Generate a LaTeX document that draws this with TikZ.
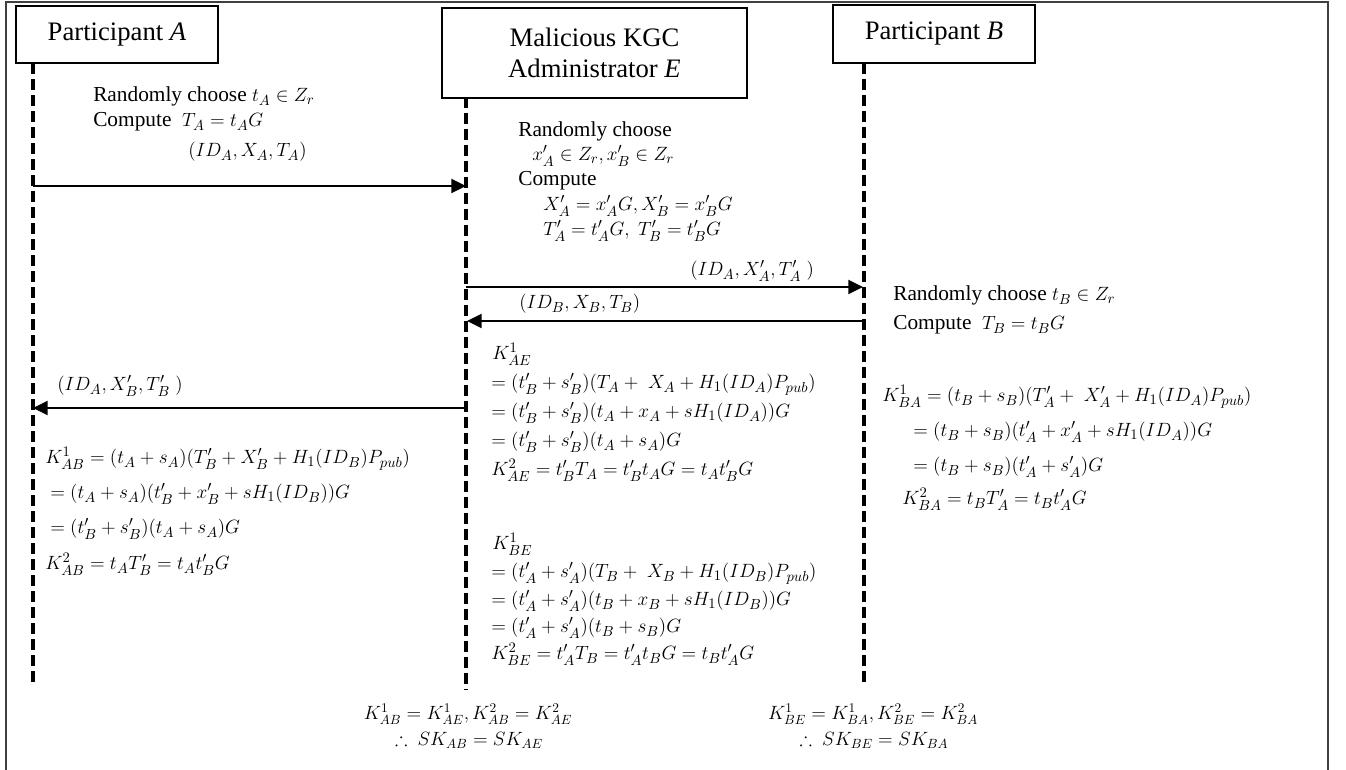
\documentclass[tikz,border=0pt]{standalone}
\usepackage{amssymb}
\usepackage{fontspec}
\setmainfont{Liberation Serif}
\DeclareMathSizes{16}{14.5}{10.5}{8}
\DeclareMathSizes{14}{14}{10}{7.5}
\usetikzlibrary{arrows.meta}
\begin{document}
\begin{tikzpicture}[x=0.75pt,y=-0.75pt,
  frame/.style={line width=1pt, draw=black!75},
  actor/.style={draw, line width=0.9pt, inner sep=0pt, align=center, font=\fontsize{20}{23}\selectfont},
  life/.style={line width=3pt, dash pattern=on 8.25pt off 3.75pt},
  msg/.style={line width=1.5pt, -{Triangle[length=11pt,width=10.5pt]}},
  txt/.style={anchor=west, inner sep=0pt, text height=11pt, text depth=4pt, font=\fontsize{16}{19}\selectfont},
  ctr/.style={anchor=center, inner sep=0pt, text height=8pt, text depth=3pt, font=\fontsize{14}{16}\selectfont}]
\useasboundingbox (0,0) rectangle (1346,770);
\draw[frame] (6,770) -- (6,2) -- (1328,2) -- (1328,770);

% actors
\node[actor, minimum width=151.5pt, minimum height=42.75pt] (A) at (117,34.5) {\raisebox{-1pt}{Participant \textit{A}}};
\node[actor, minimum width=228.75pt, minimum height=67.5pt] (E) at (594.5,53) {Malicious KGC\\Administrator \textit{E}};
\node[actor, minimum width=151.5pt, minimum height=43.5pt] (B) at (934,34) {\raisebox{-1pt}{Participant \textit{B}}};

% lifelines
\coordinate (aT) at (33,63);   \coordinate (aB) at (33,685);
\coordinate (eT) at (466,97);  \coordinate (eB) at (466,690);
\coordinate (bT) at (864,63);  \coordinate (bB) at (864,683);
\draw[life] (aT) -- (aB);
\draw[life] (eT) -- (eB);
\draw[life] (bT) -- (bB);

% message end points
\coordinate (a1) at (33,186);  \coordinate (e1) at (466,186);
\coordinate (e2) at (466,287); \coordinate (b2) at (863,287);
\coordinate (b3) at (864,321); \coordinate (e3) at (467,321);
\coordinate (e4) at (466,408); \coordinate (a4) at (33,408);
\draw[msg] (a1) -- (e1);
\draw[msg] (e2) -- (b2);
\draw[msg] (b3) -- (e3);
\draw[msg] (e4) -- (a4);

% participant A
\node[txt] (l1) at (93,97) {Randomly choose $t_A \in Z_r$};
\node[txt] (l2) at (93,122) {Compute\ \ $T_A = t_A G$};
\node[txt] (l3) at (188,152) {$(ID_A, X_A, T_A)$};
\node[txt] (l4) at (57,386) {$(ID_A, X'_B, T'_B\ )$};
\node[txt] (l5) at (45,459) {$K^1_{AB} = (t_A + s_A)\bigl(T'_B + X'_B + H_1(ID_B)P_{pub}\bigr)$};
\node[txt] (l6) at (50,494) {$= (t_A + s_A)\bigl(t'_B + x'_B + sH_1(ID_B)\bigr)G$};
\node[txt] (l7) at (50,529) {$= (t'_B + s'_B)(t_A + s_A)G$};
\node[txt] (l8) at (45,565) {$K^2_{AB} = t_A T'_B = t_A t'_B G$};

% KGC E
\node[txt] (m1) at (518,132) {Randomly choose};
\node[txt] (m2) at (532,156) {$x'_A \in Z_r, x'_B \in Z_r$};
\node[txt] (m3) at (518,181) {Compute};
\node[txt] (m4) at (543,206) {$X'_A = x'_A G, X'_B = x'_B G$};
\node[txt] (m5) at (543,231) {$T'_A = t'_A G,\ T'_B = t'_B G$};
\node[txt] (m6) at (690,271) {$(ID_A, X'_A, T'_A\ )$};
\node[txt] (m7) at (519,304) {$(ID_B, X_B, T_B)$};
\node[txt] (m8) at (492,355) {$K^1_{AE}$};
\node[txt] (m9) at (491,384) {$= (t'_B + s'_B)\bigl(T_A +\ X_A + H_1(ID_A)P_{pub}\bigr)$};
\node[txt] (m10) at (491,413) {$= (t'_B + s'_B)\bigl(t_A + x_A + sH_1(ID_A)\bigr)G$};
\node[txt] (m11) at (491,442) {$= (t'_B + s'_B)(t_A + s_A)G$};
\node[txt] (m12) at (491,471) {$K^2_{AE} = t'_B T_A = t'_B t_A G = t_A t'_B G$};
\node[txt] (m13) at (492,545) {$K^1_{BE}$};
\node[txt] (m14) at (491,573) {$= (t'_A + s'_A)\bigl(T_B +\ X_B + H_1(ID_B)P_{pub}\bigr)$};
\node[txt] (m15) at (491,601) {$= (t'_A + s'_A)\bigl(t_B + x_B + sH_1(ID_B)\bigr)G$};
\node[txt] (m16) at (491,628) {$= (t'_A + s'_A)(t_B + s_B)G$};
\node[txt] (m17) at (491,655) {$K^2_{BE} = t'_A T_B = t'_A t_B G = t_B t'_A G$};

% participant B
\node[txt] (r1) at (893,296) {Randomly choose $t_B \in Z_r$};
\node[txt] (r2) at (893,325) {Compute\ \ $T_B = t_B G$};
\node[txt] (r3) at (882,397) {$K^1_{BA} = (t_B + s_B)\bigl(T'_A +\ X'_A + H_1(ID_A)P_{pub}\bigr)$};
\node[txt] (r4) at (913,432) {$= (t_B + s_B)\bigl(t'_A + x'_A + sH_1(ID_A)\bigr)G$};
\node[txt] (r5) at (913,467) {$= (t_B + s_B)(t'_A + s'_A)G$};
\node[txt] (r6) at (902,500) {$K^2_{BA} = t_B T'_A = t_B t'_A G$};

% conclusions
\node[ctr] (c1) at (468,716) {$K^1_{AB} = K^1_{AE}, K^2_{AB} = K^2_{AE}$};
\node[ctr] (c2) at (469,742) {$\therefore\ SK_{AB} = SK_{AE}$};
\node[ctr] (c3) at (873,716) {$K^1_{BE} = K^1_{BA}, K^2_{BE} = K^2_{BA}$};
\node[ctr] (c4) at (874,742) {$\therefore\ SK_{BE} = SK_{BA}$};
\end{tikzpicture}
\end{document}
